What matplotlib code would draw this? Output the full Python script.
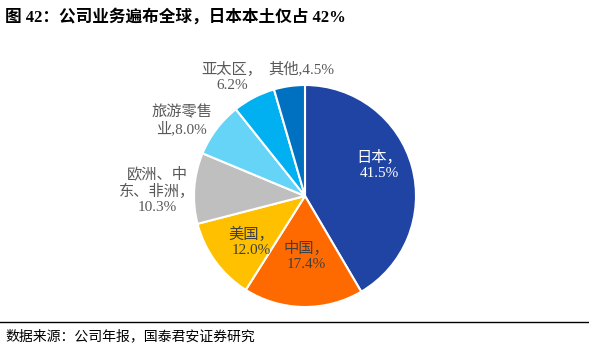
import matplotlib.pyplot as plt
from matplotlib.lines import Line2D

regions = ["日本", "中国", "美国", "欧洲、中东、非洲", "旅游零售业", "亚太区", "其他"]
shares = [41.5, 17.4, 12.0, 10.3, 8.0, 6.2, 4.5]
label_texts = ["日本，\n41.5%", "中国，\n17.4%", "美国，\n12.0%",
               "欧洲、中\n东、非洲，\n10.3%", "旅游零售\n业,8.0%",
               "亚太区，\n6.2%", "其他,4.5%"]

colors = ["#1f44a3", "#ff6a00", "#ffc000", "#bfbfbf", "#66d4f7", "#00b0f0", "#0070c0"]
label_colors = ["white", "#404040", "#404040", "#595959", "#595959", "#595959", "#595959"]
label_pos = [(0.67, 0.28), (0.01, -0.54), (-0.48, -0.41), (-1.33, 0.05),
             (-1.11, 0.68), (-0.66, 1.07), (-0.03, 1.15)]

serif_cjk = ["Liberation Serif", "Noto Sans CJK SC"]

fig = plt.figure(figsize=(5.89, 3.53), dpi=100)
fig.patch.set_facecolor("white")

# pie axes: centre ~ (305,196) px, radius ~111 px
W, H = 589, 353
cx, cy, r = 305, 196, 111
ax = fig.add_axes([(cx - r) / W, 1 - (cy + r) / H, 2 * r / W, 2 * r / H])
ax.pie(shares, colors=colors, startangle=90, counterclock=False, radius=1,
       wedgeprops=dict(edgecolor="white", linewidth=1.5))
ax.set_xlim(-1, 1)
ax.set_ylim(-1, 1)
ax.set_aspect("equal")
ax.axis("off")

for txt, (x, y), c in zip(label_texts, label_pos, label_colors):
    ax.text(x, y, txt, ha="center", va="center", color=c, fontsize=11,
            family=serif_cjk, linespacing=1.2, clip_on=False)

fig.text(5 / W, 1 - 17 / H, "图 42：公司业务遍布全球，日本本土仅占 42%",
         ha="left", va="center", fontsize=12, fontweight="bold",
         family=serif_cjk, color="black")

fig.add_artist(Line2D([0, 1], [1 - 322 / H, 1 - 322 / H], color="black",
                      linewidth=1.0, transform=fig.transFigure))

fig.text(5 / W, 1 - 336 / H, "数据来源：公司年报，国泰君安证券研究",
         ha="left", va="center", fontsize=10,
         family=["Noto Sans CJK SC", "DejaVu Sans"], color="black")

fig.savefig("out.png", dpi=100)
